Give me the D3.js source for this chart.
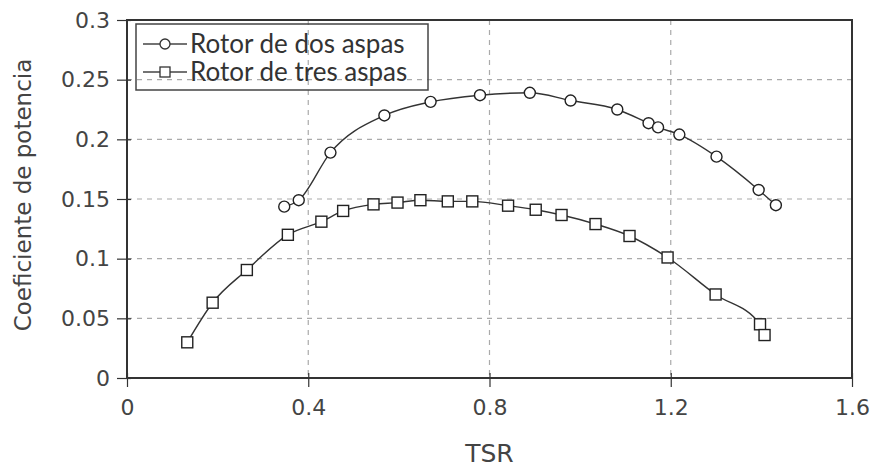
<!DOCTYPE html>
<html>
<head>
<meta charset="utf-8">
<script src="https://cdn.jsdelivr.net/npm/d3@7"></script>
<style>
  body { margin: 0; background: #fff; }
  .axis text { font-family: "DejaVu Sans", sans-serif; font-size: 22px; fill: #444; }
  .axis path { display: none; }
  .axis line { stroke: #333; stroke-width: 1.2; }
</style>
</head>
<body>
<div id="viz"></div>
<script>
// rotor de dos aspas (circulos)
const tsrDos = [0.347, 0.379, 0.449, 0.568, 0.670, 0.779, 0.889, 0.979, 1.082, 1.151, 1.172, 1.219, 1.301, 1.394, 1.432];
const cpDos = [0.1436, 0.149, 0.1889, 0.220, 0.2314, 0.237, 0.239, 0.2325, 0.225, 0.2135, 0.210, 0.204, 0.1855, 0.1576, 0.1448];

// rotor de tres aspas (cuadrados)
const tsrTres = [0.133, 0.189, 0.2645, 0.355, 0.429, 0.477, 0.544, 0.597, 0.6475, 0.708, 0.762, 0.841, 0.902, 0.959, 1.034, 1.109, 1.193, 1.299, 1.397, 1.407];
const cpTres = [0.0299, 0.0631, 0.0905, 0.120, 0.131, 0.140, 0.1455, 0.147, 0.149, 0.148, 0.148, 0.1444, 0.141, 0.1366, 0.129, 0.119, 0.101, 0.070, 0.045, 0.036];

const xTicks = [0, 0.4, 0.8, 1.2, 1.6];
const yTicks = [0, 0.05, 0.1, 0.15, 0.2, 0.25, 0.3];
const seriesNames = ['Rotor de dos aspas', 'Rotor de tres aspas'];

function buildChart(containerId) {
    const width = 877;
    const height = 468;

    const margin = {
        top: 20,
        bottom: 90,
        left: 127,
        right: 25
    };

    const innerWidth = width - margin.left - margin.right;
    const innerHeight = height - margin.top - margin.bottom;

    const svg = d3.select(containerId)
        .append('svg')
        .attr('width', width)
        .attr('height', height);

    const g = svg.append('g')
        .attr('transform', `translate(${margin.left},${margin.top})`);

    const x = d3.scaleLinear().domain([0, 1.6]).range([0, innerWidth]);
    const y = d3.scaleLinear().domain([0, 0.3]).range([innerHeight, 0]);

    // grid
    g.append('g')
        .selectAll('line')
        .data(xTicks.slice(1, -1))
        .enter()
        .append('line')
        .attr('x1', d => x(d)).attr('x2', d => x(d))
        .attr('y1', 0).attr('y2', innerHeight)
        .attr('stroke', '#aaa').attr('stroke-width', 1.2)
        .attr('stroke-dasharray', '5,5');

    g.append('g')
        .selectAll('line')
        .data(yTicks.slice(1, -1))
        .enter()
        .append('line')
        .attr('y1', d => y(d)).attr('y2', d => y(d))
        .attr('x1', 0).attr('x2', innerWidth)
        .attr('stroke', '#aaa').attr('stroke-width', 1.2)
        .attr('stroke-dasharray', '5,5');

    // axes
    const xAxis = d3.axisBottom(x)
        .tickValues(xTicks)
        .tickFormat(d3.format('~g'))
        .tickSize(9)
        .tickPadding(12);

    const yAxis = d3.axisLeft(y)
        .tickValues(yTicks)
        .tickFormat(d3.format('~g'))
        .tickSize(10)
        .tickPadding(7);

    g.append('g')
        .attr('class', 'axis x-axis')
        .attr('transform', `translate(0,${innerHeight})`)
        .call(xAxis)
        .selectAll('line')
        .attr('y1', -5);

    g.append('g')
        .attr('class', 'axis y-axis')
        .call(yAxis)
        .selectAll('line')
        .attr('x1', 4);

    // frame
    g.append('rect')
        .attr('x', 0).attr('y', 0)
        .attr('width', innerWidth).attr('height', innerHeight)
        .attr('fill', 'none')
        .attr('stroke', '#333')
        .attr('stroke-width', 2);

    // axis titles
    svg.append('text')
        .attr('x', margin.left + x(0.8))
        .attr('y', 462)
        .attr('text-anchor', 'middle')
        .style('font-family', '"DejaVu Sans", sans-serif')
        .style('font-size', '25px')
        .style('fill', '#444')
        .text('TSR');

    svg.append('text')
        .attr('transform', `translate(31,${margin.top + innerHeight / 2 - 4}) rotate(-90)`)
        .attr('text-anchor', 'middle')
        .style('font-family', '"DejaVu Sans", sans-serif')
        .style('font-size', '23px')
        .style('fill', '#444')
        .text('Coeficiente de potencia');

    const line = d3.line()
        .x(d => x(d[0]))
        .y(d => y(d[1]))
        .curve(d3.curveMonotoneX);

    const dos = tsrDos.map((t, i) => [t, cpDos[i]]);
    const tres = tsrTres.map((t, i) => [t, cpTres[i]]);

    [dos, tres].forEach(pts => {
        g.append('path')
            .datum(pts)
            .attr('fill', 'none')
            .attr('stroke', '#333')
            .attr('stroke-width', 1.4)
            .attr('d', line);
    });

    g.selectAll('.dos')
        .data(dos)
        .enter()
        .append('circle')
        .attr('class', 'dos')
        .attr('cx', d => x(d[0]))
        .attr('cy', d => y(d[1]))
        .attr('r', 5.5)
        .attr('fill', '#fff')
        .attr('stroke', '#222')
        .attr('stroke-width', 1.4);

    const s = 11;
    g.selectAll('.tres')
        .data(tres)
        .enter()
        .append('rect')
        .attr('class', 'tres')
        .attr('x', d => x(d[0]) - s / 2)
        .attr('y', d => y(d[1]) - s / 2)
        .attr('width', s).attr('height', s)
        .attr('fill', '#fff')
        .attr('stroke', '#222')
        .attr('stroke-width', 1.4);

    // legend (transparent, grid shows through like the original)
    const legend = svg.append('g').attr('transform', 'translate(136,24)');
    legend.append('rect')
        .attr('width', 292).attr('height', 66)
        .attr('fill', 'none')
        .attr('stroke', '#444')
        .attr('stroke-width', 1.5);

    seriesNames.forEach((name, i) => {
        const row = legend.append('g').attr('transform', `translate(0,${20 + i * 28})`);
        row.append('line')
            .attr('x1', 7).attr('x2', 51)
            .attr('stroke', '#444').attr('stroke-width', 1.4);
        if (i === 0) {
            row.append('circle').attr('cx', 29).attr('r', 5)
                .attr('fill', '#fff').attr('stroke', '#333').attr('stroke-width', 1.3);
        } else {
            row.append('rect').attr('x', 24).attr('y', -5).attr('width', 10).attr('height', 10)
                .attr('fill', '#fff').attr('stroke', '#333').attr('stroke-width', 1.3);
        }
        row.append('text')
            .attr('x', 54)
            .attr('dy', '0.35em')
            .style('font-family', 'Lato, sans-serif')
            .style('font-size', '26px')
            .style('fill', '#333')
            .text(name);
    });
}

buildChart('#viz');
</script>
</body>
</html>
